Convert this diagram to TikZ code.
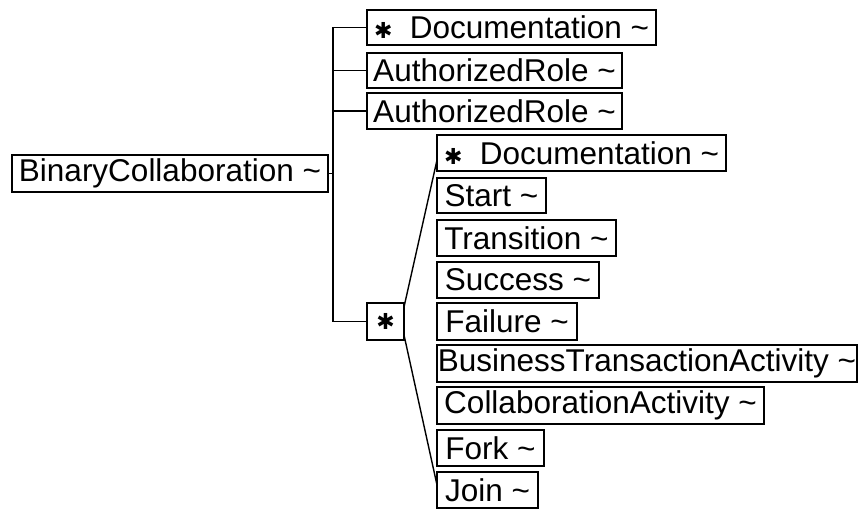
\documentclass[tikz,border=0pt]{standalone}
\usepackage{fontspec}
\setmainfont{Liberation Sans}
\newfontfamily\symfont{DejaVu Sans}
\newcommand{\many}{{\symfont\fontsize{22}{22}\selectfont ✱}}
\begin{document}
\begin{tikzpicture}
    [x=1pt, y=-1pt, line width=1.4pt,
     elem/.style={draw, anchor=north west, inner sep=0pt, outer sep=0pt,
                  font=\fontsize{31.5}{33}\selectfont}]
    % root and first level
    \node[elem, minimum width=316pt, minimum height=37pt] (bc) at (12,155) {BinaryCollaboration \textasciitilde};
    \node[elem, minimum width=289pt, minimum height=35pt] (doc1) at (367,10) {\many\ \ Documentation \textasciitilde};
    \node[elem, minimum width=255pt, minimum height=35pt] (role1) at (367,53) {AuthorizedRole \textasciitilde};
    \node[elem, minimum width=255pt, minimum height=36pt] (role2) at (367,93) {AuthorizedRole \textasciitilde};
    \node[elem, minimum width=37pt, minimum height=37pt] (star) at (367,303) {\many};
    % choice children
    \node[elem, minimum width=289pt, minimum height=36pt] (doc2) at (437,135) {\many\ \ Documentation \textasciitilde};
    \node[elem, minimum width=109pt, minimum height=35pt] (start) at (437,178) {Start \textasciitilde};
    \node[elem, minimum width=179pt, minimum height=36pt] (trans) at (437,220) {Transition \textasciitilde};
    \node[elem, minimum width=162pt, minimum height=36pt] (succ) at (437,262) {Success \textasciitilde};
    \node[elem, minimum width=140pt, minimum height=37pt] (fail) at (437,303) {Failure \textasciitilde};
    \node[elem, minimum width=420pt, minimum height=37pt] (bta) at (437,345) {BusinessTransactionActivity \textasciitilde};
    \node[elem, minimum width=327pt, minimum height=37pt] (ca) at (437,387) {CollaborationActivity \textasciitilde};
    \node[elem, minimum width=107pt, minimum height=36pt] (fork) at (437,430) {Fork \textasciitilde};
    \node[elem, minimum width=101pt, minimum height=36pt] (join) at (437,472) {Join \textasciitilde};
    % connectors
    \coordinate (trunk) at (333,0);
    \draw (bc.east) -- (bc.east -| trunk);
    \draw (doc1.west) -- (doc1.west -| trunk) |- (star.west);
    \draw (role1.west) -- (role1.west -| trunk);
    \draw (role2.west) -- (role2.west -| trunk);
    \draw ([yshift=-4pt]star.north east) -- ([yshift=-7pt]doc2.west);
    \draw ([yshift=5pt]star.south east) -- ([yshift=5pt]join.west);
    \useasboundingbox (0,0) rectangle (858,504);
\end{tikzpicture}
\end{document}
